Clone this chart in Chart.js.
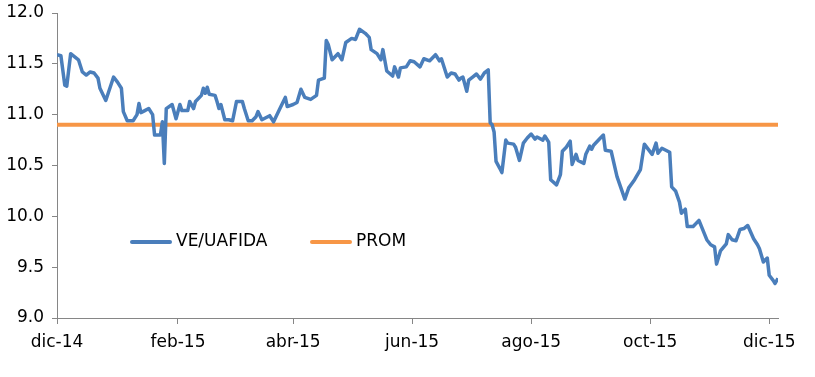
<!DOCTYPE html>
<html>
<head>
<meta charset="utf-8">
<script src="https://cdn.jsdelivr.net/npm/chart.js@4/dist/chart.umd.min.js"></script>
<style>
  html, body { margin: 0; padding: 0; background: #fff; }
  #wrap { width: 815px; height: 377px; position: relative; }
</style>
</head>
<body>
<div id="wrap"><canvas id="grafico"></canvas></div>
<script>
// dias desde 1-dic-2014
var dias = [0, 2, 4, 5, 7, 11, 13, 15, 17, 19, 21, 22, 25, 29, 31, 33, 34, 36, 39, 41,
  42, 43, 45, 47, 49, 50, 53, 54, 55, 56, 59, 61, 63, 64, 67, 68, 70, 71, 74, 75,
  76, 77, 78, 81, 82, 83, 84, 86, 88, 90, 92, 95, 96, 98, 100, 102, 103, 105, 107, 109,
  111, 114, 117, 118, 121, 123, 125, 127, 130, 133, 134, 137, 138, 139, 141, 144, 146, 148, 151, 153,
  155, 158, 160, 161, 164, 166, 167, 169, 172, 173, 175, 176, 179, 181, 183, 186, 188, 191, 194, 196,
  197, 200, 202, 204, 206, 207, 208, 210, 211, 213, 215, 217, 219, 221, 222, 223, 224, 225, 227, 228,
  230, 231, 234, 235, 237, 239, 241, 243, 245, 246, 249, 250, 252, 253, 256, 258, 259, 261, 263, 264,
  266, 267, 270, 271, 273, 274, 275, 278, 280, 281, 284, 287, 291, 293, 296, 299, 301, 305, 307, 308,
  310, 312, 314, 315, 317, 319, 320, 322, 323, 326, 329, 333, 335, 337, 338, 340, 343, 344, 346, 348,
  350, 352, 354, 357, 359, 360, 362, 364, 365, 367, 368, 369.5];

var veUafida = [11.59, 11.58, 11.29, 11.28, 11.60, 11.54, 11.42, 11.39, 11.42, 11.41, 11.36, 11.26, 11.14, 11.37, 11.32, 11.26, 11.03, 10.94, 10.94, 11.00,
  11.11, 11.02, 11.04, 11.06, 11.00, 10.80, 10.80, 10.93, 10.52, 11.06, 11.10, 10.96, 11.10, 11.04, 11.04, 11.13, 11.06, 11.13, 11.19, 11.26,
  11.21, 11.27, 11.20, 11.19, 11.13, 11.06, 11.10, 10.95, 10.95, 10.94, 11.13, 11.13, 11.06, 10.94, 10.94, 10.98, 11.03, 10.95, 10.97, 10.99,
  10.93, 11.05, 11.17, 11.08, 11.10, 11.12, 11.25, 11.17, 11.15, 11.19, 11.34, 11.36, 11.73, 11.69, 11.54, 11.60, 11.54, 11.71, 11.75, 11.74,
  11.84, 11.80, 11.76, 11.64, 11.60, 11.54, 11.64, 11.43, 11.38, 11.47, 11.37, 11.46, 11.47, 11.53, 11.52, 11.47, 11.55, 11.53, 11.59, 11.53,
  11.55, 11.37, 11.41, 11.40, 11.34, 11.36, 11.37, 11.23, 11.34, 11.37, 11.40, 11.35, 11.41, 11.44, 10.92, 10.90, 10.83, 10.54, 10.47, 10.43,
  10.75, 10.72, 10.71, 10.68, 10.55, 10.72, 10.77, 10.81, 10.76, 10.78, 10.75, 10.79, 10.73, 10.36, 10.31, 10.41, 10.64, 10.68, 10.74, 10.51,
  10.61, 10.55, 10.52, 10.61, 10.69, 10.66, 10.70, 10.76, 10.80, 10.65, 10.64, 10.39, 10.17, 10.28, 10.36, 10.46, 10.71, 10.61, 10.72, 10.62,
  10.67, 10.65, 10.63, 10.29, 10.25, 10.14, 10.03, 10.07, 9.90, 9.90, 9.96, 9.77, 9.72, 9.70, 9.53, 9.66, 9.73, 9.82, 9.77, 9.76,
  9.87, 9.88, 9.91, 9.78, 9.72, 9.68, 9.55, 9.59, 9.42, 9.37, 9.34, 9.39];

var promedio = 10.90;

var ticksDias = [0, 62, 121, 182, 243, 304, 365];
var ticksEtiquetas = ["dic-14", "feb-15", "abr-15", "jun-15", "ago-15", "oct-15", "dic-15"];

var fuente = { family: "'DejaVu Sans', Verdana, sans-serif", size: 17 };

var puntosVe = dias.map(function (d, i) { return { x: d, y: veUafida[i] }; });
var puntosProm = dias.map(function (d) { return { x: d, y: promedio }; });

// leyenda dentro del area del grafico
var leyendaInterna = {
  id: 'leyendaInterna',
  afterDraw: function (chart) {
    var ctx = chart.ctx;
    var items = [
      { x: 130, ds: chart.data.datasets[0] },
      { x: 310, ds: chart.data.datasets[1] }
    ];
    var y = 242;
    ctx.save();
    ctx.font = fuente.size + "px " + fuente.family;
    ctx.textBaseline = 'middle';
    ctx.fillStyle = '#000';
    items.forEach(function (it) {
      ctx.beginPath();
      ctx.strokeStyle = it.ds.borderColor;
      ctx.lineWidth = 4;
      ctx.lineCap = 'round';
      ctx.moveTo(it.x + 2, y);
      ctx.lineTo(it.x + 40, y);
      ctx.stroke();
      ctx.fillText(it.ds.label, it.x + 46, y);
    });
    ctx.restore();
  }
};

var grafico = new Chart(document.getElementById('grafico'), {
  type: 'line',
  data: {
    datasets: [
      {
        label: 'VE/UAFIDA',
        data: puntosVe,
        borderColor: '#4a7ebb',
        borderWidth: 3.5,
        pointRadius: 0,
        tension: 0,
        borderJoinStyle: 'round',
        order: 1
      },
      {
        label: 'PROM',
        data: puntosProm,
        borderColor: '#f79646',
        borderWidth: 4,
        pointRadius: 0,
        tension: 0,
        order: 2
      }
    ]
  },
  options: {
    responsive: true,
    maintainAspectRatio: false,
    animation: false,
    layout: { padding: { top: 13, right: 37, bottom: 0, left: 0 } },
    plugins: {
      legend: { display: false },
      tooltip: { enabled: false }
    },
    scales: {
      x: {
        type: 'linear',
        min: 0,
        max: 369.5,
        afterBuildTicks: function (scale) {
          scale.ticks = ticksDias.map(function (v) { return { value: v }; });
        },
        afterFit: function (scale) { scale.height = 59; },
        ticks: {
          autoSkip: false,
          maxRotation: 0,
          padding: 8,
          color: '#000',
          font: fuente,
          callback: function (v) { return ticksEtiquetas[ticksDias.indexOf(v)]; }
        },
        grid: { display: true, drawOnChartArea: false, tickLength: 6, color: '#868686' },
        border: { color: '#868686', width: 1 }
      },
      y: {
        min: 9,
        max: 12,
        afterFit: function (scale) {
          scale.width = 57;
          scale.paddingTop = 0;
          scale.paddingBottom = 0;
        },
        ticks: {
          stepSize: 0.5,
          padding: 8,
          color: '#000',
          font: fuente,
          callback: function (v) { return v.toFixed(1); }
        },
        grid: { display: true, drawOnChartArea: false, tickLength: 5, color: '#868686' },
        border: { color: '#868686', width: 1 }
      }
    }
  },
  plugins: [leyendaInterna]
});
</script>
</body>
</html>
